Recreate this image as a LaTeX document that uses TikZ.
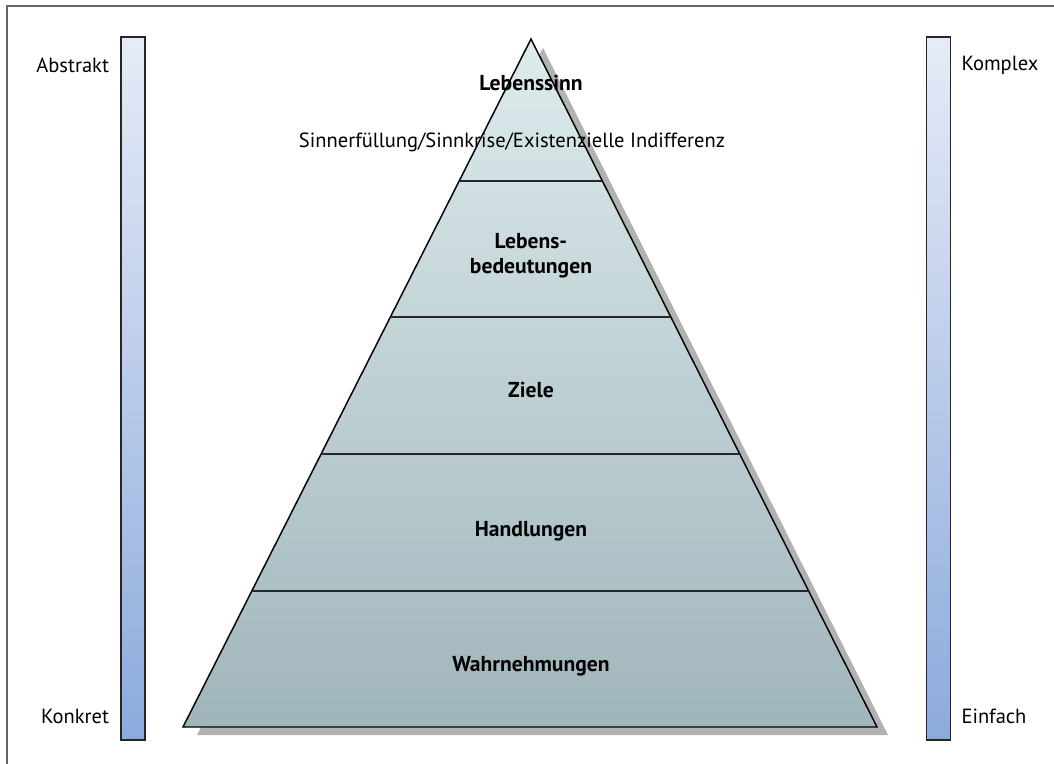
\documentclass[tikz,border=0pt]{standalone}
\usepackage{fontspec}
\setmainfont{PT Sans}
\usepackage{tikz}
\usetikzlibrary{calc,positioning}

\definecolor{pyrtop}{HTML}{DDEBEC}
\definecolor{pyrbot}{HTML}{A0B5BB}
\definecolor{bartop}{HTML}{E6EBF7}
\definecolor{barbot}{HTML}{8CAADC}

\begin{document}
\begin{tikzpicture}[
    x=0.75pt, y=-0.75pt,
    layer/.style={font=\fontsize{16.2}{18.5}\selectfont\bfseries, align=center, inner sep=0pt},
    side/.style={font=\fontsize{15.4}{18}\selectfont, inner sep=0pt},
    bar/.style={rectangle, draw=black!85, line width=1.1pt, top color=bartop, bottom color=barbot,
        minimum width=18pt, minimum height=527pt, inner sep=0pt}
]
    \useasboundingbox (0,0) rectangle (1054,764);
    % frame (cut off at right and bottom)
    \draw[black!60, line width=1pt] (7,764) -- (7,6) -- (1054,6);

    % scale bars
    \node[bar] (abar) at (133,388.5) {};
    \node[bar] (kbar) at (938.5,388.5) {};
    \node[side, anchor=east] (abstr) at ($(abar.north west)+(-11,29)$) {Abstrakt};
    \node[side, anchor=east] (konkr) at ($(abar.south west)+(-11,-24)$) {Konkret};
    \node[side, anchor=west] (kompl) at ($(kbar.north east)+(10,29)$) {Komplex};
    \node[side, anchor=west] (einf) at ($(kbar.south east)+(10,-24)$) {Einfach};

    % pyramid
    \coordinate (apex) at (531,39);
    \coordinate (bl) at (183,727);
    \coordinate (br) at (877,727);
    \fill[black!30] ($(apex)+(12,9)$) -- ($(br)+(11,8)$) -- ($(bl)+(14,8)$) -- cycle;
    \draw[line width=1.1pt, top color=pyrtop, bottom color=pyrbot] (apex) -- (br) -- (bl) -- cycle;
    \foreach \t in {0.2064,0.4041,0.6032,0.8023}
        \draw[line width=1.1pt, black!85] ($(apex)!\t!(bl)$) -- ($(apex)!\t!(br)$);

    % levels
    \node[layer] (sinn) at (531,83) {Lebenssinn};
    \node[side] (krise) at (512,142) {Sinnerfüllung/Sinnkrise/Existenzielle Indifferenz};
    \node[layer] (bedeut) at (531,256) {Lebens-\\bedeutungen};
    \node[layer] (ziele) at (531,390) {Ziele};
    \node[layer] (handl) at (531,531) {Handlungen};
    \node[layer] (wahrn) at (531,666) {Wahrnehmungen};
\end{tikzpicture}
\end{document}
